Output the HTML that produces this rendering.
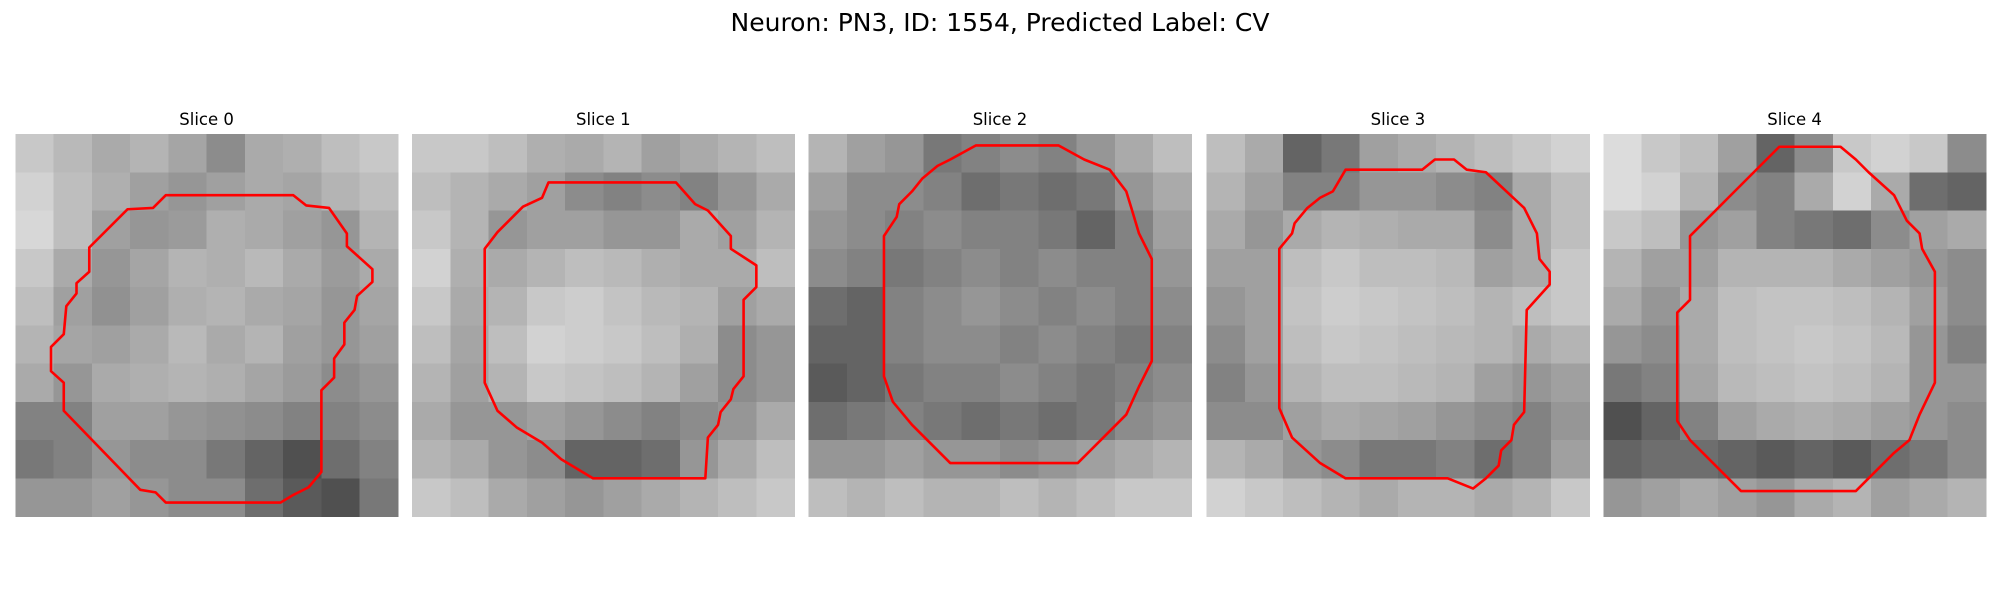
<!DOCTYPE html>
<html><head><meta charset="utf-8"><style>
html,body{margin:0;padding:0;background:#fff;width:2000px;height:600px;overflow:hidden}
svg{display:block}
text{font-family:"DejaVu Sans","Liberation Sans",sans-serif;fill:#000}
</style></head><body>
<svg id="fig" width="2000" height="600" viewBox="0 0 2000 600" shape-rendering="crispEdges">
<text x="1000" y="31" font-size="25" text-anchor="middle">Neuron: PN3, ID: 1554, Predicted Label: CV</text>
</svg>
<script>
// Data: coarse 10x10 brightness per slice (0 black - 255 white)
const sliceTitles = ["Slice 0","Slice 1","Slice 2","Slice 3","Slice 4"];
const slice0 = [
[200,185,170,180,165,140,170,175,190,200],
[210,190,175,160,150,160,170,165,180,190],
[215,190,160,150,155,175,170,160,150,180],
[200,170,150,165,180,175,185,170,155,170],
[190,160,145,160,175,180,170,165,150,165],
[180,165,160,170,185,170,180,160,150,160],
[170,150,170,175,180,175,165,155,140,150],
[130,130,160,160,150,145,140,130,130,140],
[120,130,150,140,140,120,100,80,110,130],
[150,150,160,150,140,140,110,90,80,120]];
const slice1 = [
[200,200,190,175,170,180,160,170,180,190],
[190,180,170,160,140,130,140,130,150,170],
[200,180,150,160,160,150,150,170,160,180],
[210,175,170,180,190,185,175,170,170,190],
[200,170,180,200,205,195,185,180,160,170],
[190,165,190,210,205,200,190,175,140,150],
[180,160,180,200,195,190,180,160,140,150],
[170,150,150,160,150,140,130,140,150,170],
[180,170,150,140,100,100,110,150,170,190],
[200,190,170,160,150,160,170,180,190,200]];
const slice2 = [
[180,160,150,120,130,140,130,150,170,190],
[160,140,140,130,110,120,110,120,150,170],
[150,140,130,140,130,130,120,100,130,160],
[140,130,120,130,140,130,140,130,130,150],
[110,100,130,140,150,140,130,140,130,140],
[100,100,130,140,140,130,140,130,120,130],
[90,100,120,130,130,140,130,120,130,140],
[110,120,130,120,110,120,110,120,140,150],
[150,150,160,150,150,140,150,160,170,180],
[190,180,190,180,180,190,180,190,200,200]];
const slice3 = [
[190,170,100,120,160,170,180,190,200,210],
[180,160,130,130,150,150,140,130,170,190],
[170,150,170,180,175,170,170,140,170,190],
[160,160,190,200,190,190,185,160,170,200],
[150,160,195,205,200,195,190,180,190,200],
[140,160,190,200,195,190,185,180,170,180],
[130,150,180,190,190,185,180,160,150,160],
[140,140,160,170,165,160,150,140,130,150],
[180,170,150,140,120,120,130,110,130,160],
[210,200,190,180,170,180,180,170,180,200]];
const slice4 = [
[220,200,190,160,100,140,200,210,200,140],
[220,210,180,140,130,170,210,170,110,100],
[200,190,150,160,130,120,110,140,160,170],
[180,160,160,180,180,180,170,160,150,140],
[170,150,170,190,195,195,190,180,160,140],
[150,140,170,190,195,200,195,185,150,130],
[120,130,165,185,190,195,190,180,150,150],
[80,100,130,160,170,175,170,160,150,140],
[100,110,110,100,90,100,90,110,120,140],
[150,160,170,160,150,170,180,160,170,180]];
const slices = [slice0,slice1,slice2,slice3,slice4];
// contour vertices in panel units (0..300 per panel side)
const contour0 = [[118,48],[218,48],[228,56],[246,58],[260,78],[260,88],[280,106],[280,116],[268,127],[266,138],[258,148],[258,165],[250,176],[250,191],[240,201],[240,265],[230,277],[218,283],[208,289],[118,289],[110,281],[98,279],[38,217],[38,195],[28,186],[28,167],[38,157],[40,135],[48,125],[48,117],[58,108],[58,89],[88,59],[108,58]];
const contour1 = [[107,38],[207,38],[222,55],[232,60],[250,80],[250,90],[270,103],[270,120],[260,130],[260,190],[252,200],[250,208],[242,218],[240,228],[232,238],[230,270],[142,270],[117,255],[102,242],[82,230],[67,217],[57,195],[57,90],[67,77],[87,57],[102,50]];
const contour2 = [[131,9],[196,9],[216,20],[236,28],[249,45],[253,58],[259,78],[269,98],[269,178],[259,198],[249,220],[231,238],[221,248],[211,258],[111,258],[101,248],[81,228],[66,210],[59,190],[59,80],[69,65],[71,55],[81,45],[89,35],[101,25],[111,20]];
const contour3 = [[109,28],[169,28],[179,20],[194,20],[204,28],[219,30],[249,58],[259,78],[261,98],[269,108],[269,118],[251,138],[249,218],[241,228],[239,240],[231,248],[229,260],[219,270],[209,278],[189,270],[109,270],[89,258],[67,238],[57,215],[57,90],[67,78],[69,70],[79,58],[89,50],[99,45]];
const contour4 = [[138,10],[186,10],[198,20],[208,30],[228,48],[238,68],[248,78],[250,90],[260,108],[260,195],[248,220],[240,240],[228,250],[218,260],[208,270],[198,280],[108,280],[88,260],[68,240],[58,225],[58,140],[68,130],[68,80],[78,70],[88,60],[98,50],[108,40],[118,30],[128,20]];
const contours = [contour0,contour1,contour2,contour3,contour4];

const NS="http://www.w3.org/2000/svg";
const svg=document.getElementById('fig');
const panelX=[15.3,412,808.7,1206.6,1603.3];
const panelY=134, size=382.6, k=size/300;
function px(i,u){return panelX[i]+u*k;}
function py(v){return panelY+v*k;}
slices.forEach((grid,i)=>{
  const g=document.createElementNS(NS,'g');
  
  
  svg.appendChild(g);
  const n=grid.length, c=size/n;
  grid.forEach((row,r)=>row.forEach((v,col)=>{
    const rect=document.createElementNS(NS,'rect');
    
    
    rect.setAttribute('x',panelX[i]+col*c);
    rect.setAttribute('y',panelY+r*c);
    rect.setAttribute('width',c+0.6);
    rect.setAttribute('height',c+0.6);
    rect.setAttribute('fill',`rgb(${v},${v},${v})`);
    g.appendChild(rect);
  }));
  const pl=document.createElementNS(NS,'polygon');
  
  
  pl.setAttribute('points',contours[i].map(p=>px(i,p[0])+','+py(p[1])).join(' '));
  pl.setAttribute('fill','none');
  pl.setAttribute('stroke','#ff0000');
  pl.setAttribute('stroke-width','2.6');
  pl.setAttribute('stroke-linejoin','round');
  pl.setAttribute('shape-rendering','geometricPrecision');
  g.appendChild(pl);
  const t=document.createElementNS(NS,'text');
  
  
  t.setAttribute('x',panelX[i]+size/2);
  t.setAttribute('y',125);
  t.setAttribute('font-size','16.5');
  t.setAttribute('text-anchor','middle');
  t.textContent=sliceTitles[i];
  g.appendChild(t);
});
</script>
</body></html>
